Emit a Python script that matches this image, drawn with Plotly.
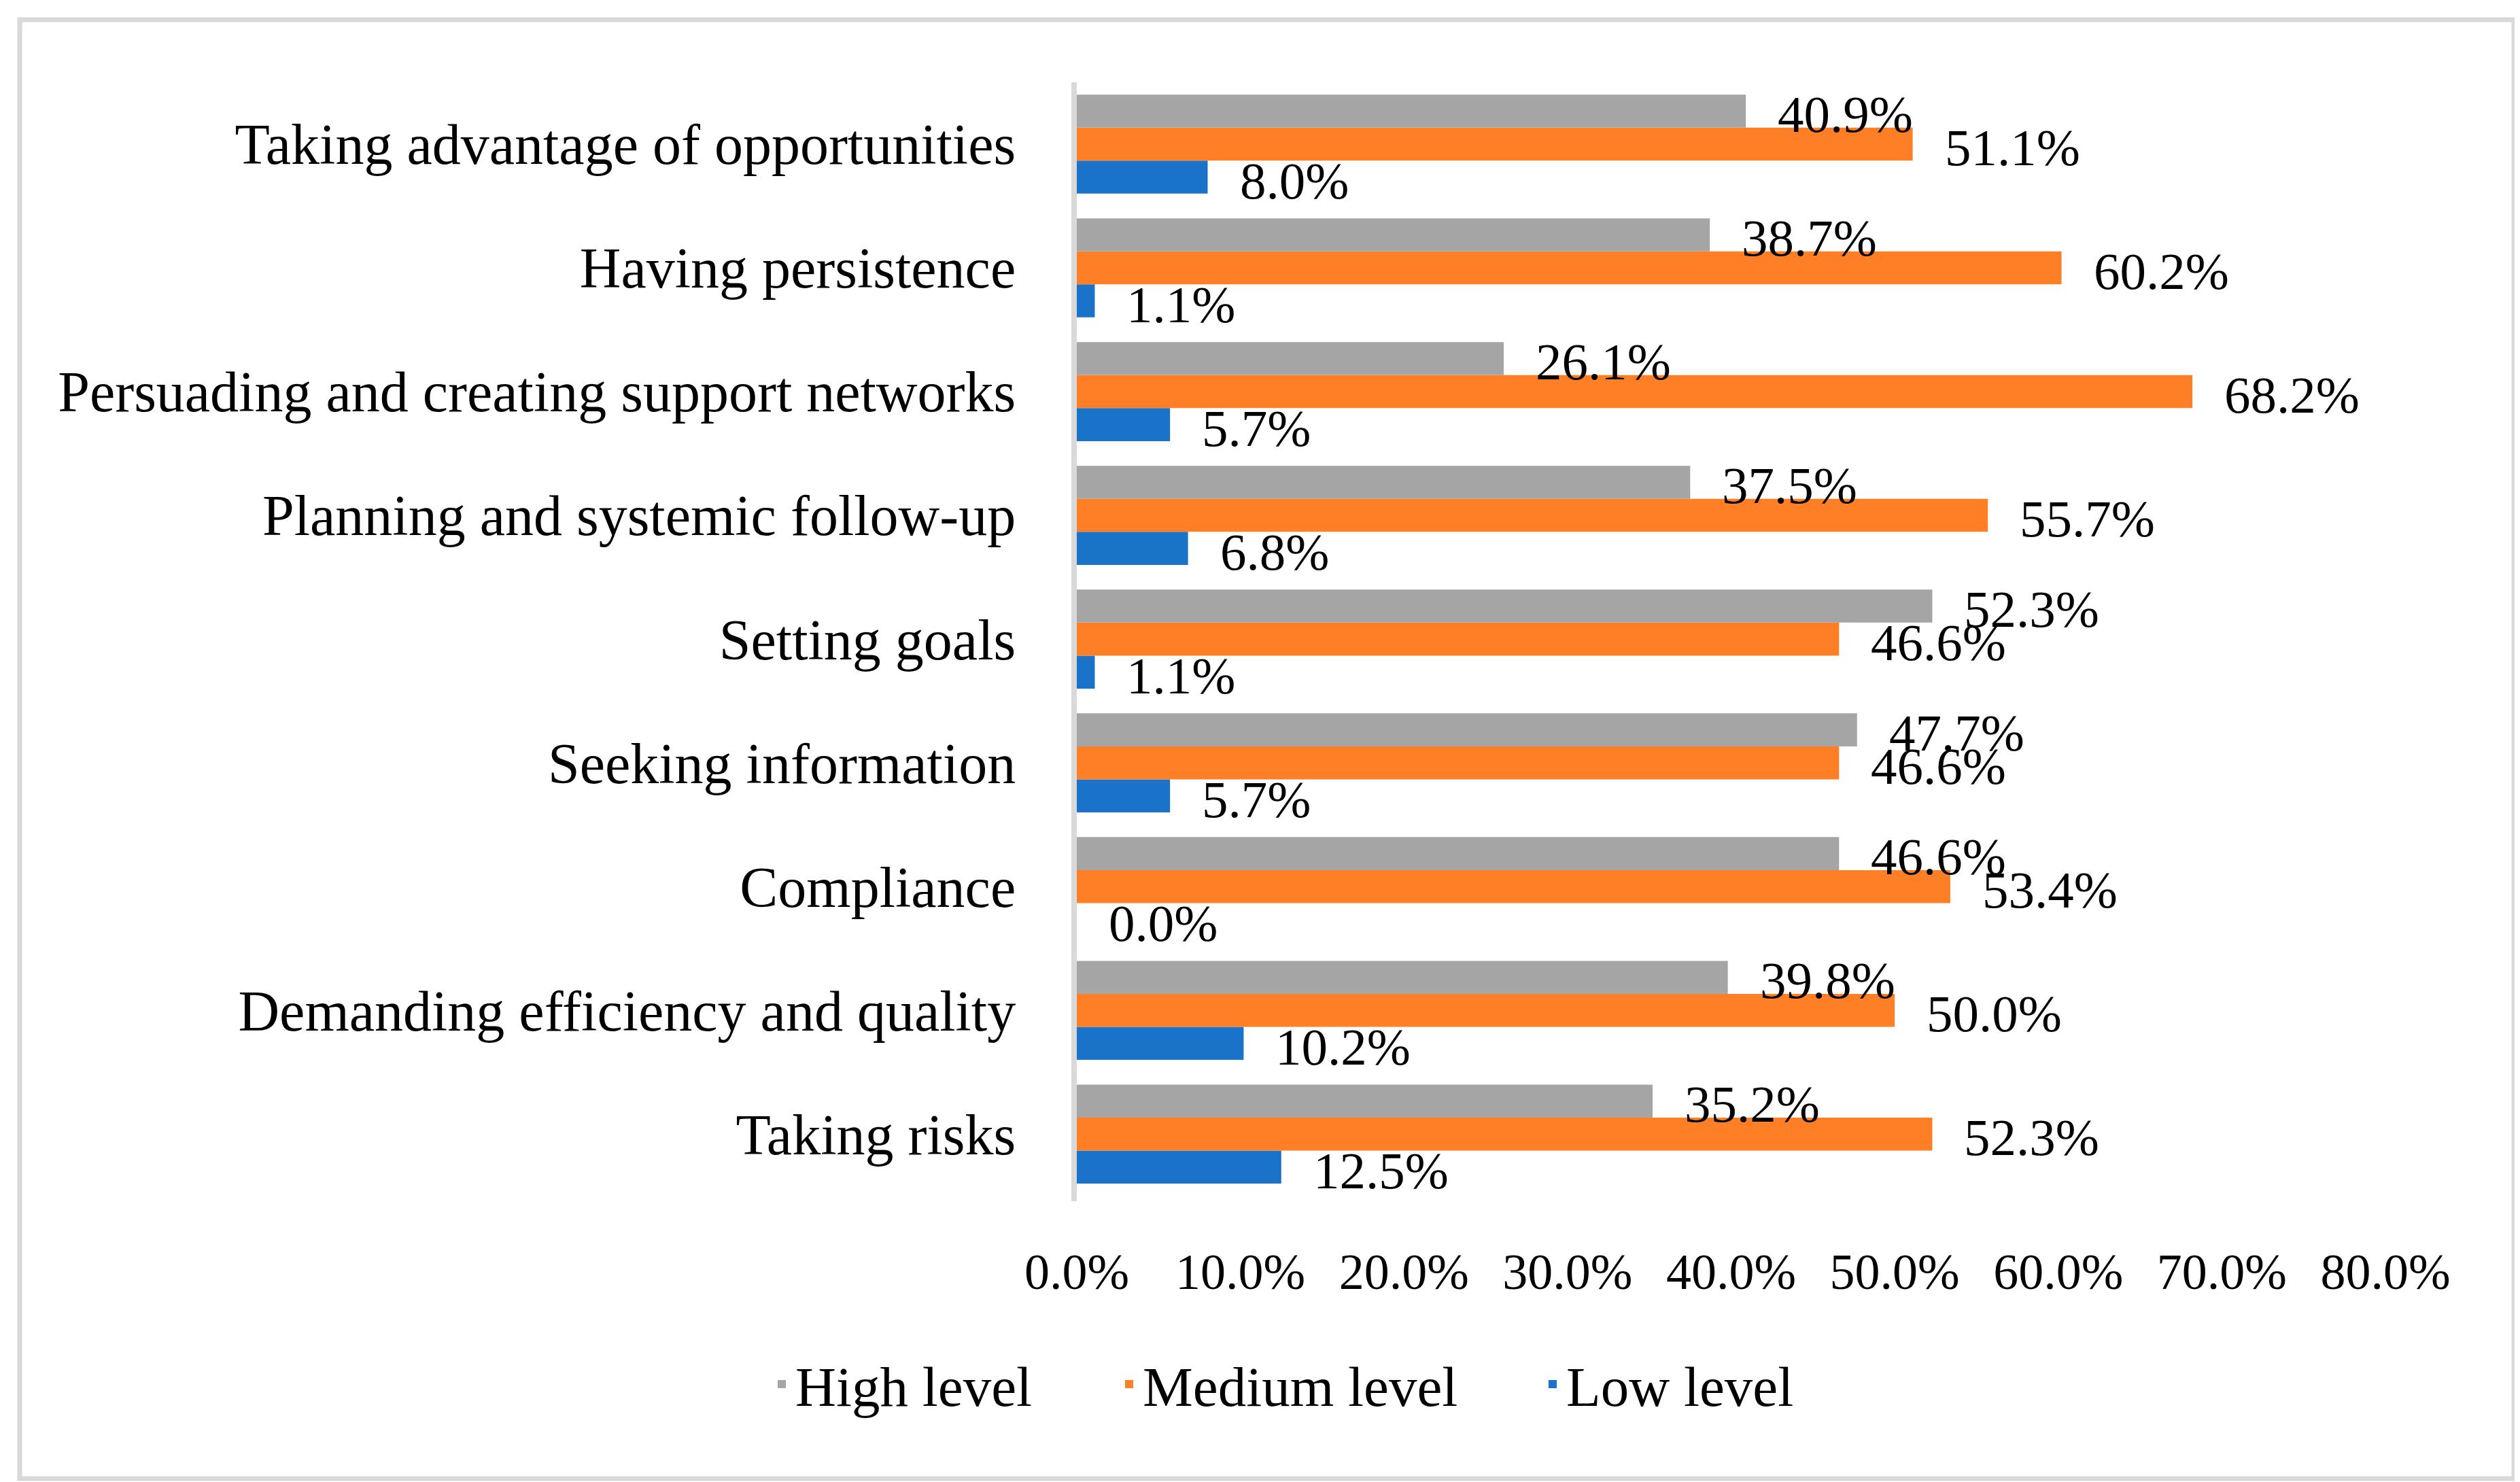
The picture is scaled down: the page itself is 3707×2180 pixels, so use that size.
import plotly.graph_objects as go

categories = [
    "Taking advantage of opportunities",
    "Having persistence",
    "Persuading and creating support networks",
    "Planning and systemic follow-up",
    "Setting goals",
    "Seeking information",
    "Compliance",
    "Demanding efficiency and quality",
    "Taking risks",
]
high_level = [40.9, 38.7, 26.1, 37.5, 52.3, 47.7, 46.6, 39.8, 35.2]
medium_level = [51.1, 60.2, 68.2, 55.7, 46.6, 46.6, 53.4, 50.0, 52.3]
low_level = [8.0, 1.1, 5.7, 6.8, 1.1, 5.7, 0.0, 10.2, 12.5]
series_names = ["Low level", "Medium level", "High level"]
series_values = [low_level, medium_level, high_level]
series_colors = ["#1A73C8", "#FF7F27", "#A5A5A5"]
legend_widths = [340, 578, 466]
x_ticks = [0, 10, 20, 30, 40, 50, 60, 70, 80]

W, H = 3707, 2180
ml, mr, mt, mb = 1576, 206, 113, 421
plot_w = W - ml - mr
plot_h = H - mt - mb
bargap = 0.2
FONT = "Liberation Serif"

fig = go.Figure()
for name, vals, col, lw in zip(series_names, series_values, series_colors, legend_widths):
    fig.add_trace(go.Bar(
        y=categories, x=vals, name=name, orientation="h",
        marker=dict(color=col, line=dict(width=0)),
        legendwidth=lw,
    ))

# data labels
n_series = len(series_names)
step = plot_h / len(categories)
thick = step * (1 - bargap) / n_series
annotations = []
for i, vals in enumerate(series_values):
    for cat, v in zip(categories, vals):
        annotations.append(dict(
            x=v, y=cat, xref="x", yref="y",
            text=f"{v:.1f}%", showarrow=False,
            xanchor="left", yanchor="middle",
            xshift=45, yshift=(i - (n_series - 1) / 2) * thick - 5,
            font=dict(family=FONT, size=77, color="black"),
        ))

def px_to_paper_x(px):
    return (px - ml) / plot_w

def px_to_paper_y(py):
    return (H - mb - py) / plot_h

fig.update_layout(
    width=W, height=H,
    margin=dict(l=ml, r=mr, t=mt, b=mb),
    paper_bgcolor="white", plot_bgcolor="white",
    barmode="group", bargap=bargap, bargroupgap=0,
    font=dict(family=FONT, color="black"),
    annotations=annotations,
    showlegend=True,
    legend=dict(
        orientation="h", traceorder="reversed",
        xref="container", yref="container",
        x=1122 / W, xanchor="left", y=1 - 2028 / H, yanchor="middle",
        font=dict(family=FONT, size=83, color="black"),
        itemwidth=30,
    ),
    shapes=[dict(
        type="rect", xref="paper", yref="paper",
        x0=px_to_paper_x(21), x1=px_to_paper_x(3690),
        y0=px_to_paper_y(2167), y1=px_to_paper_y(21),
        line=dict(color="#D9D9D9", width=7), fillcolor="rgba(0,0,0,0)",
        layer="below",
    )],
)
fig.update_xaxes(
    range=[0, 80], tickvals=x_ticks, ticktext=[f"{t:.1f}%" for t in x_ticks],
    showgrid=False, zeroline=False, showline=False, ticks="",
    tickfont=dict(family=FONT, size=74, color="black"),
    ticklabelstandoff=54,
)
fig.update_yaxes(
    categoryorder="array", categoryarray=categories[::-1],
    showgrid=False, zeroline=False, showline=True,
    linecolor="#D9D9D9", linewidth=8, ticks="",
    tickfont=dict(family=FONT, size=84, color="black"),
    ticklabelstandoff=65,
)
fig.write_html("out.html")
